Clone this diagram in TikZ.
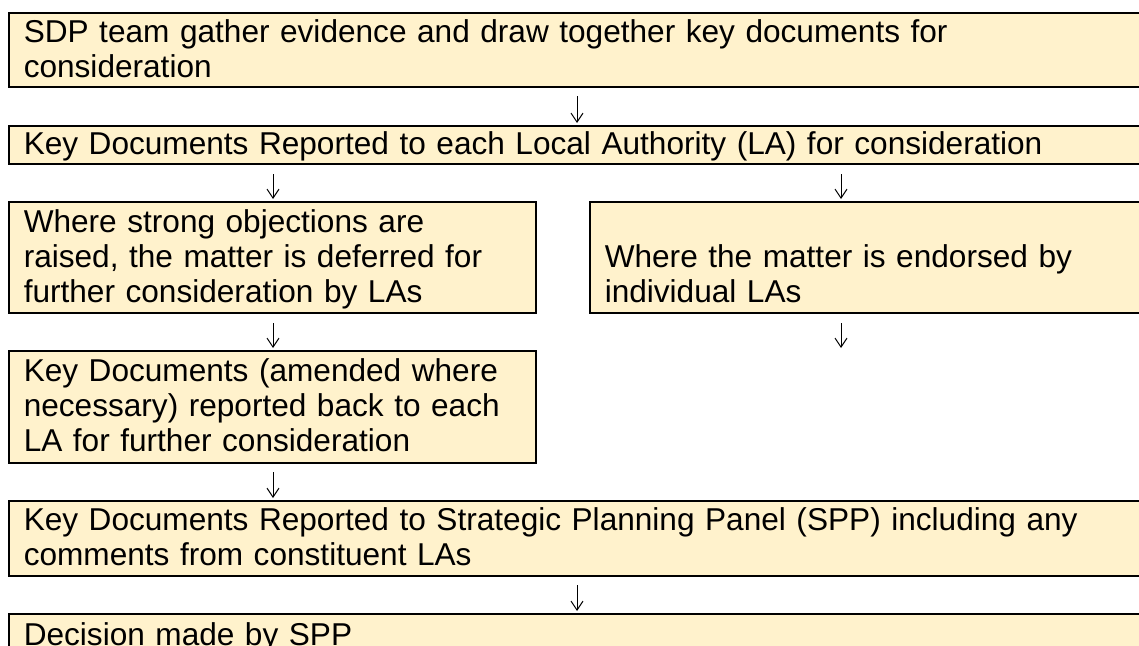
\documentclass[tikz,border=0pt]{standalone}
\usepackage{fontspec}
\setmainfont{Liberation Sans}
\usepackage{tikz}
\usetikzlibrary {arrows.meta}

\definecolor{boxfill}{HTML}{FFF2CC}
\newcommand{\bxstrut}{\rule[-7pt]{0pt}{34pt}}

\begin{document}
\begin{tikzpicture}[x=1pt,y=-1pt,
    stepbox/.style={rectangle,draw=black,line width=1.5pt,fill=boxfill,anchor=north west,
      inner xsep=15pt,inner ysep=0pt,align=left,font=\fontsize{31.6}{35.2}\selectfont,
      execute at begin node=\bxstrut,execute at end node=\bxstrut},
    flow/.style={-{Straight Barb[length=9pt,width=12pt]},line width=1pt,shorten >=2pt}]
  \useasboundingbox (0,0) rectangle (1139,645);
  \clip (0,0) rectangle (1139,645);

  % boxes
  \node[stepbox,text width=1122pt,minimum height=74pt] (gather) at (8,12)
    {SDP team gather evidence and draw together key documents for\\consideration};
  \node[stepbox,text width=1122pt,minimum height=38pt] (report) at (8,125)
    {Key Documents Reported to each Local Authority (LA) for consideration};
  \node[stepbox,text width=497pt,minimum height=111pt] (object) at (8,201)
    {Where strong objections are\\raised, the matter is deferred for\\further consideration by LAs};
  \node[stepbox,text width=541pt,minimum height=111pt] (endorse) at (589,201)
    {\mbox{}\\Where the matter is endorsed by\\individual LAs};
  \node[stepbox,text width=497pt,minimum height=112pt] (amend) at (8,350)
    {Key Documents (amended where\\necessary) reported back to each\\LA for further consideration};
  \node[stepbox,text width=1122pt,minimum height=75pt] (panel) at (8,500)
    {Key Documents Reported to Strategic Planning Panel (SPP) including any\\comments from constituent LAs};
  \node[stepbox,text width=1122pt,minimum height=44pt] (decide) at (8,613)
    {Decision made by SPP};

  % arrows
  \coordinate (a1) at (577,96);
  \coordinate (a2) at (273,174);
  \coordinate (a3) at (841,174);
  \coordinate (a4) at (273,323);
  \coordinate (a5) at (841,323);
  \coordinate (e5) at (841,350);
  \coordinate (a6) at (273,472);
  \coordinate (a7) at (577,585);
  \draw[flow] (a1) -- (a1 |- report.north);
  \draw[flow] (a2) -- (a2 |- object.north);
  \draw[flow] (a3) -- (a3 |- endorse.north);
  \draw[flow] (a4) -- (a4 |- amend.north);
  \draw[flow] (a5) -- (e5);
  \draw[flow] (a6) -- (a6 |- panel.north);
  \draw[flow] (a7) -- (a7 |- decide.north);
\end{tikzpicture}
\end{document}
